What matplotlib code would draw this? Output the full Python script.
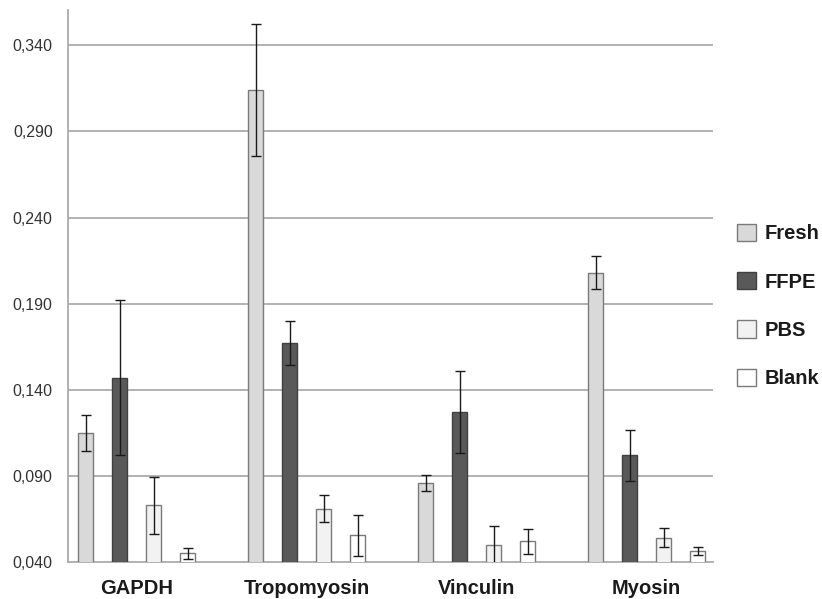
import matplotlib
matplotlib.use("Agg")
import matplotlib.pyplot as plt
import numpy as np

categories = ["GAPDH", "Tropomyosin", "Vinculin", "Myosin"]
series = ["Fresh", "FFPE", "PBS", "Blank"]
fresh = [0.115, 0.314, 0.086, 0.208]
ffpe = [0.147, 0.167, 0.127, 0.102]
pbs = [0.073, 0.071, 0.050, 0.054]
blank = [0.045, 0.0555, 0.052, 0.0465]
fresh_err = [0.0105, 0.0385, 0.0048, 0.0097]
ffpe_err = [0.045, 0.0128, 0.024, 0.0148]
pbs_err = [0.0165, 0.008, 0.011, 0.0055]
blank_err = [0.003, 0.012, 0.0073, 0.0024]
yticks = [0.040, 0.090, 0.140, 0.190, 0.240, 0.290, 0.340]
ytick_labels = ["0,040", "0,090", "0,140", "0,190", "0,240", "0,290", "0,340"]

values = [fresh, ffpe, pbs, blank]
errors = [fresh_err, ffpe_err, pbs_err, blank_err]
colors = ["#d9d9d9", "#595959", "#f2f2f2", "#ffffff"]
edges = ["#7a7a7a", "#404040", "#7a7a7a", "#7a7a7a"]

fig = plt.figure(figsize=(8.22, 5.99), dpi=100)
ax = fig.add_axes([68 / 822, 37 / 599, (713 - 68) / 822, (562 - 10) / 599])

x = np.arange(len(categories))
offsets = [-0.3, -0.1, 0.1, 0.3]
width = 0.088
for i, s in enumerate(series):
    ax.bar(x + offsets[i], values[i], width, color=colors[i], edgecolor=edges[i],
           linewidth=1.0, label=s, zorder=3,
           yerr=errors[i], error_kw=dict(ecolor="#1a1a1a", elinewidth=1.0,
                                         capsize=3.5, capthick=1.0, zorder=4))

ax.set_ylim(0.040, 0.3605)
ax.set_xlim(-0.403, 3.39)
ax.set_yticks(yticks)
ax.set_yticklabels(ytick_labels, fontsize=11.5, color="#333333", family="Liberation Sans")
ax.set_xticks(x)
ax.set_xticklabels(categories, fontsize=14.5, fontweight="bold", color="#1a1a1a",
                   family="Liberation Sans")
ax.tick_params(axis="both", length=0)
ax.tick_params(axis="y", pad=11)
ax.tick_params(axis="x", pad=12)
for yv in yticks[1:]:
    ax.axhline(yv, color="#ababab", linewidth=1.3, zorder=1)
for sp in ["top", "right"]:
    ax.spines[sp].set_visible(False)
ax.spines["left"].set_color("#ababab")
ax.spines["left"].set_linewidth(1.3)
ax.spines["bottom"].set_color("#ababab")
ax.spines["bottom"].set_linewidth(1.3)

leg = fig.legend(loc="center left", bbox_to_anchor=(737 / 822, 1 - 306 / 599),
                 frameon=False, prop=dict(family="Liberation Sans", weight="bold", size=14.5),
                 handlelength=0.95, handleheight=0.95, labelspacing=1.42,
                 handletextpad=0.4, borderpad=0, borderaxespad=0)
for t in leg.get_texts():
    t.set_color("#1a1a1a")

fig.savefig("out.png", dpi=100)
